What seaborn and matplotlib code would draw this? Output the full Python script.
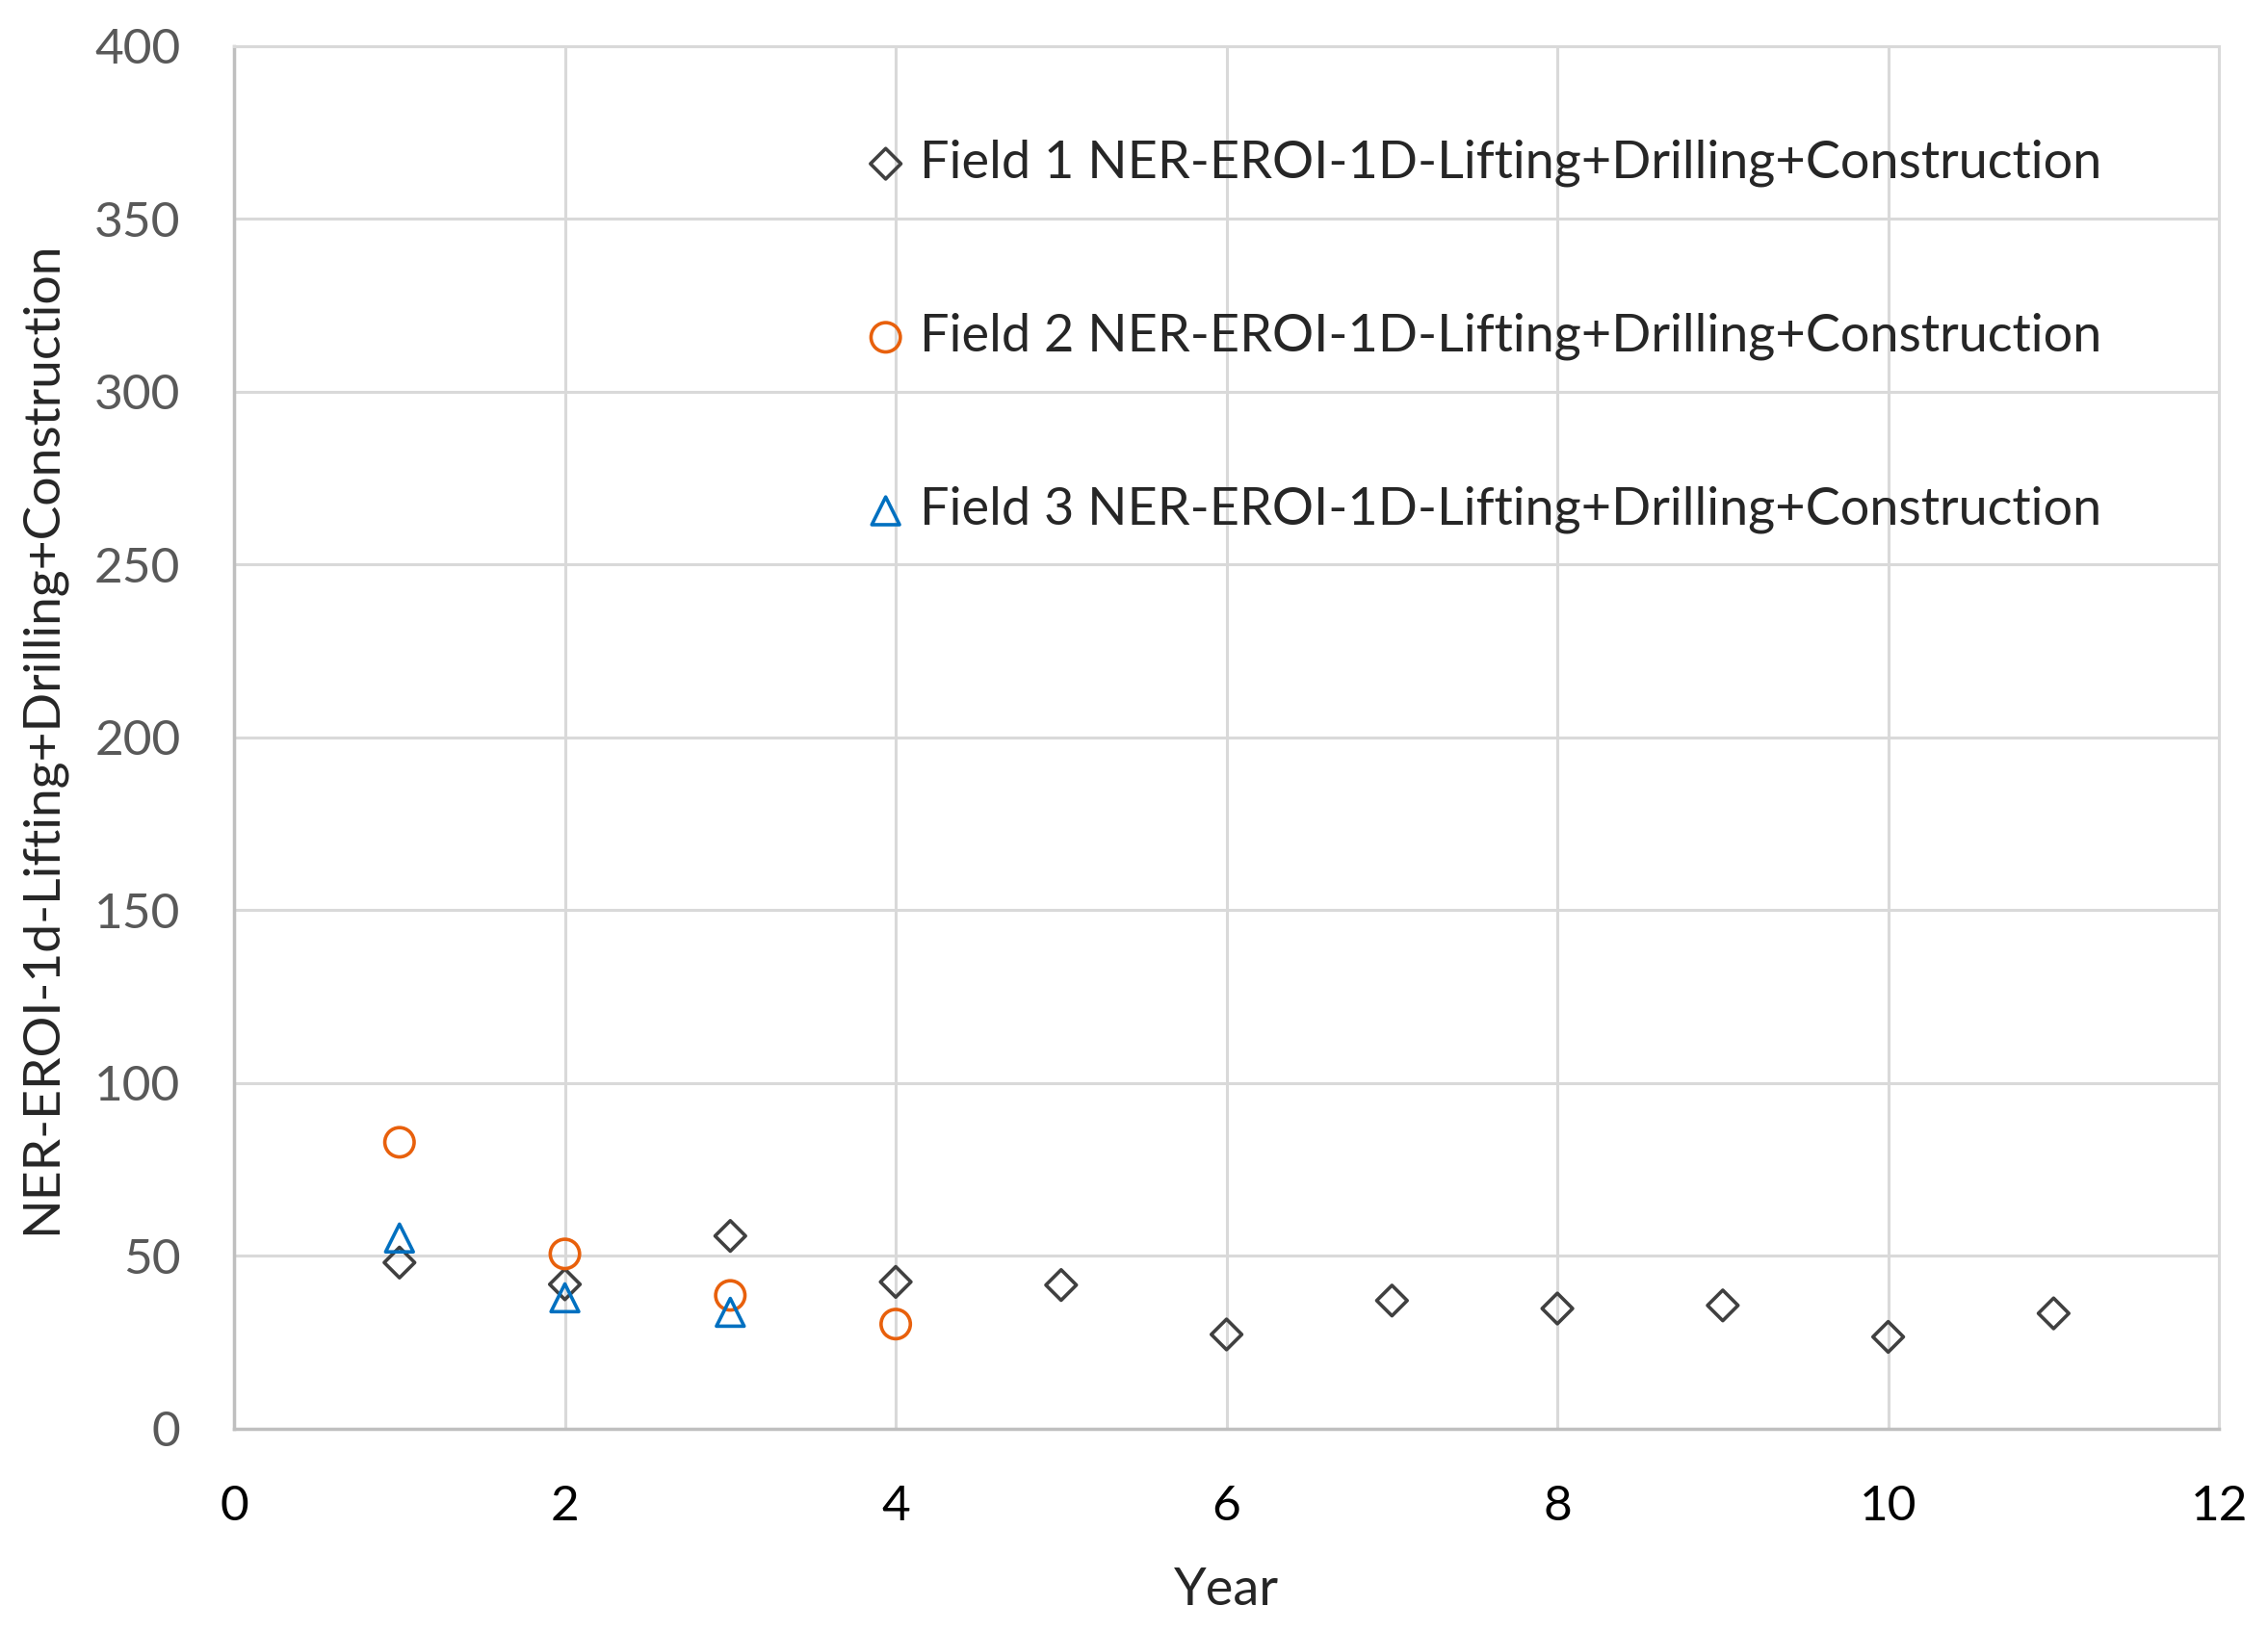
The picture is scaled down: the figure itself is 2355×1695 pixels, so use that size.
"""Scatter of NER-EROI per year for three fields."""

import numpy as np
import pandas as pd
import matplotlib
matplotlib.use("Agg")
import matplotlib.pyplot as plt
import seaborn as sns

# values
field1_years = [1, 2, 3, 4, 5, 6, 7, 8, 9, 10, 11]
field1_values = [48.1, 41.8, 55.8, 42.5, 41.6, 27.3, 37.1, 34.8, 35.7, 26.6, 33.4]

field2_years = [1, 2, 3, 4]
field2_values = [82.9, 50.6, 38.6, 30.3]

field3_years = [1, 2, 3]
field3_values = [55.2, 37.9, 33.7]

series_labels = [
    "Field 1 NER-EROI-1D-Lifting+Drilling+Construction",
    "Field 2 NER-EROI-1D-Lifting+Drilling+Construction",
    "Field 3 NER-EROI-1D-Lifting+Drilling+Construction",
]

x_ticks = [0, 2, 4, 6, 8, 10, 12]
y_ticks = [0, 50, 100, 150, 200, 250, 300, 350, 400]

sns.set_style("white")
plt.rcParams["font.family"] = ["Lato", "DejaVu Sans"]

fig = plt.figure(figsize=(23.55, 16.95), dpi=100)
ax = fig.add_axes([0.1032, 0.1245, 0.8752, 0.8472])

styles = [
    (field1_years, field1_values, "D", "#404040", 260),
    (field2_years, field2_values, "o", "#E8600C", 480),
    (field3_years, field3_values, "^", "#0070C0", 430),
]
for (xs, ys, mk, col, size), lab in zip(styles, series_labels):
    df = pd.DataFrame({"Year": xs, "value": ys})
    sns.scatterplot(data=df, x="Year", y="value", marker=mk, s=size,
                    facecolor="none", edgecolor=col, linewidth=2.6,
                    label=lab, ax=ax, zorder=3)

ax.set_xlim(0, 12)
ax.set_ylim(0, 400)
ax.set_xticks(x_ticks)
ax.set_yticks(y_ticks)
ax.grid(True, color="#D9D9D9", linewidth=2.2)
ax.set_axisbelow(True)
for side in ["top", "right"]:
    ax.spines[side].set_color("#D9D9D9")
    ax.spines[side].set_linewidth(2.2)
for side in ["left", "bottom"]:
    ax.spines[side].set_color("#BFBFBF")
    ax.spines[side].set_linewidth(2.5)

ax.tick_params(axis="both", length=0, labelsize=37)
ax.tick_params(axis="y", pad=40, labelcolor="#595959")
ax.tick_params(axis="x", pad=42, labelcolor="#000000")

ax.set_xlabel("Year", fontsize=39, labelpad=28)
ax.set_ylabel("NER-EROI-1d-Lifting+Drilling+Construction", fontsize=38.5, labelpad=22)

leg = ax.legend(loc="upper left", bbox_to_anchor=(0.306, 0.948), frameon=False,
                fontsize=38.9, labelspacing=2.42, handletextpad=0.2,
                handlelength=0.9, borderaxespad=0)

fig.savefig("out.png", dpi=100)
